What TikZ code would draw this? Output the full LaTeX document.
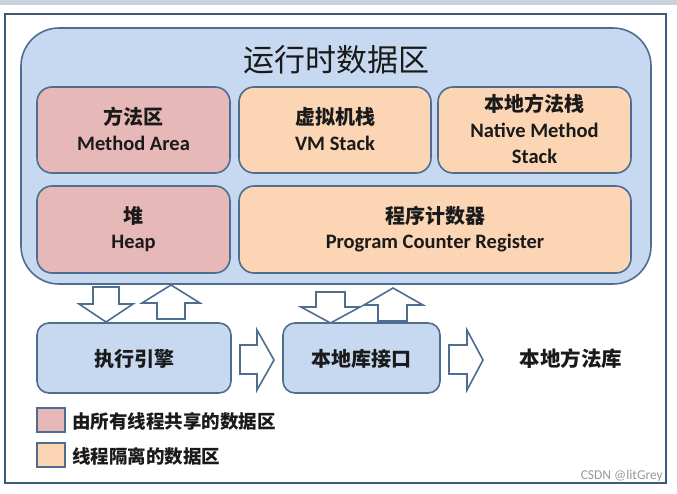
\documentclass[tikz,border=0pt]{standalone}
\usepackage{fontspec}
\setmainfont{Carlito}
\newfontfamily\cjk{Noto Sans CJK SC}
\definecolor{bluefill}{HTML}{C6D9F1}
\definecolor{edgec}{HTML}{4F6D8E}
\definecolor{pinkfill}{HTML}{E6B9B8}
\definecolor{peachfill}{HTML}{FCD5B5}
\definecolor{framec}{HTML}{3E5A78}
\definecolor{bandc}{HTML}{C9D1DE}
\definecolor{txt}{HTML}{1A1A1A}
\tikzset{
  areabox/.style={draw=edgec, line width=1.6pt, rounded corners=15pt, inner sep=0pt},
  blockarrow/.style={draw=edgec, fill=white, line width=1.6pt, line join=miter},
  cjklabel/.style={text=txt, font=\cjk\bfseries\fontsize{20}{24}\selectfont, inner sep=0pt},
  enlabel/.style={text=txt, font=\bfseries\fontsize{20.5}{24}\selectfont, inner sep=0pt},
  legendbox/.style={draw=edgec, line width=1.8pt, minimum width=28pt, minimum height=24pt, inner sep=0pt},
  legendtext/.style={text=txt, font=\cjk\bfseries\fontsize{18.5}{22}\selectfont, anchor=west, inner sep=0pt}
}
\begin{document}
\begin{tikzpicture}[x=1pt,y=-1pt]
\useasboundingbox (0,0) rectangle (677,493);
\fill[white] (0,0) rectangle (677,493);
\fill[bandc] (0,0) rectangle (677,5);
% frame
\node[draw=framec, line width=2pt, minimum width=661pt, minimum height=469pt, inner sep=0pt] (frame) at (335.5,248.5) {};
% runtime data area
\node[draw=edgec, fill=bluefill, line width=1.6pt, rounded corners=38pt, minimum width=630pt, minimum height=256pt, inner sep=0pt] (runtime) at (336,156) {};
\node[text=txt, font=\cjk\fontsize{31}{34}\selectfont, inner sep=0pt] (title) at (336,60) {运行时数据区};
% row 1
\node[areabox, fill=pinkfill, minimum width=193pt, minimum height=86pt] (method) at (133.5,130) {};
\node[areabox, fill=peachfill, minimum width=192pt, minimum height=86pt] (vm) at (335,130) {};
\node[areabox, fill=peachfill, minimum width=193pt, minimum height=86pt] (native) at (534.5,130) {};
% row 2
\node[areabox, fill=pinkfill, minimum width=193pt, minimum height=87pt] (heap) at (133.5,229.5) {};
\node[areabox, fill=peachfill, minimum width=392pt, minimum height=87pt] (pc) at (435,229.5) {};
% labels
\node[cjklabel] (methodcn) at (133.5,117) {方法区};
\node[enlabel] (methoden) at (133.5,143) {Method Area};
\node[cjklabel] (vmcn) at (335,117) {虚拟机栈};
\node[enlabel] (vmen) at (335,143) {VM Stack};
\node[cjklabel] (nativecn) at (534.5,104) {本地方法栈};
\node[enlabel] (nativeen) at (534.5,130) {Native Method};
\node[enlabel] (nativeen2) at (534.5,156) {Stack};
\node[cjklabel] (heapcn) at (133.5,216) {堆};
\node[enlabel] (heapen) at (133.5,243) {Heap};
\node[cjklabel] (pccn) at (435,216) {程序计数器};
\node[enlabel] (pcen) at (435,243) {Program Counter Register};
% bottom boxes
\node[draw=edgec, fill=bluefill, line width=1.6pt, rounded corners=12pt, minimum width=194pt, minimum height=70pt, inner sep=0pt] (engine) at (134,358) {};
\node[cjklabel] (enginetext) at (134,359) {执行引擎};
\node[draw=edgec, fill=bluefill, line width=1.6pt, rounded corners=12pt, minimum width=157pt, minimum height=70pt, inner sep=0pt] (jni) at (361.5,358) {};
\node[cjklabel] (jnitext) at (361.5,359) {本地库接口};
\node[cjklabel, font=\cjk\bfseries\fontsize{20.5}{24}\selectfont] (nlib) at (571,359) {本地方法库};
% block arrows runtime <-> engine
\draw[blockarrow] (93,287) -- (119,287) -- (119,304) -- (133,304) -- (106,322) -- (79,304) -- (93,304) -- cycle;
\draw[blockarrow] (157,319) -- (185,319) -- (185,303) -- (200,303) -- (171,285) -- (142,303) -- (157,303) -- cycle;
% block arrows runtime <-> jni
\draw[blockarrow] (316,292) -- (345,292) -- (345,307) -- (360,307) -- (330.5,323) -- (301,307) -- (316,307) -- cycle;
\draw[blockarrow] (378,321) -- (407,321) -- (407,305) -- (423,305) -- (393,288) -- (364,305) -- (378,305) -- cycle;
% right arrows
\draw[blockarrow] (240,345) -- (257,345) -- (257,330) -- (274,360) -- (257,390) -- (257,374) -- (240,374) -- cycle;
\draw[blockarrow] (449,345) -- (467,345) -- (467,330) -- (483,360) -- (467,390) -- (467,374) -- (449,374) -- cycle;
% legend
\node[legendbox, fill=pinkfill] (leg1) at (51,420) {};
\node[legendtext] (leg1text) at (72,421) {由所有线程共享的数据区};
\node[legendbox, fill=peachfill] (leg2) at (51,455) {};
\node[legendtext] (leg2text) at (72,456) {线程隔离的数据区};
% watermark
\node[anchor=east, text=gray!80, font=\fontsize{13.5}{15}\selectfont, inner sep=0pt] (mark) at (663,476) {CSDN @litGrey};
\end{tikzpicture}
\end{document}
